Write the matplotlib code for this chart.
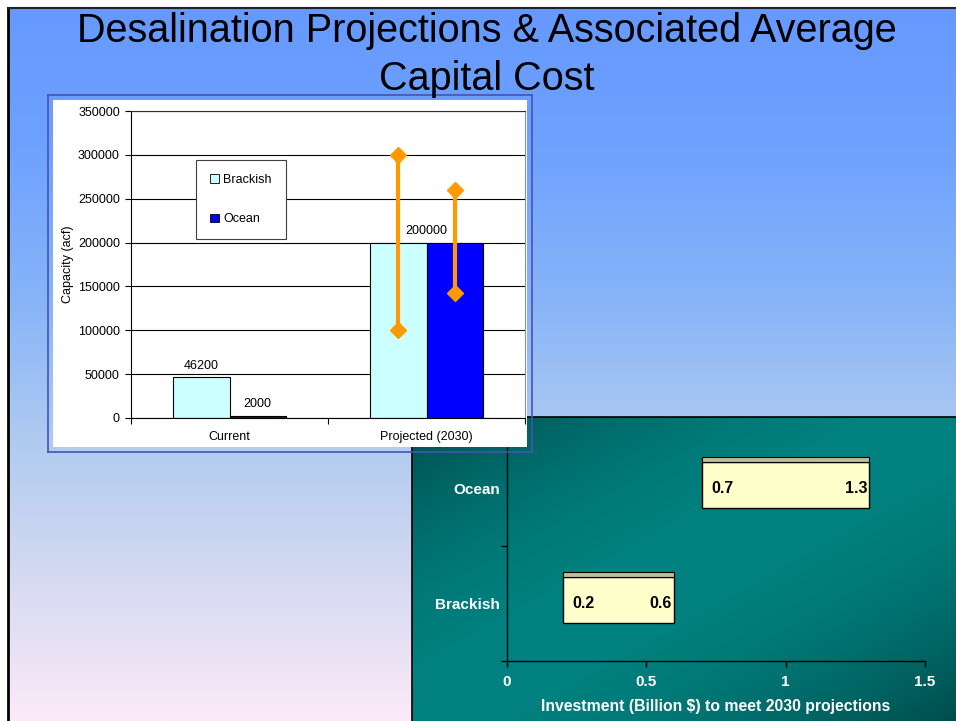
import numpy as np
import matplotlib

matplotlib.use("Agg")
import matplotlib.pyplot as plt
from matplotlib.patches import Patch, Rectangle

W, H = 956, 721

# Capacity chart (acre-feet)
categories = ["Current", "Projected (2030)"]
brackish_capacity = [46200, 200000]
ocean_capacity = [2000, 200000]
# projected high/low range for 2030
brackish_range = [100000, 300000]
ocean_range = [143000, 260000]

# Investment chart (billion $)
sources = ["Brackish", "Ocean"]
invest_low = [0.2, 0.7]
invest_high = [0.6, 1.3]
invest_ticks = [0, 0.5, 1, 1.5]
invest_tick_labels = ["0", "0.5", "1", "1.5"]

plt.rcParams["font.family"] = ["Liberation Sans", "DejaVu Sans"]

fig = plt.figure(figsize=(W / 100, H / 100), dpi=100, facecolor="white")


def px_axes(x0, y0, x1, y1):
    """Axes placed by pixel box, measured from the top-left corner."""
    return fig.add_axes([x0 / W, 1 - y1 / H, (x1 - x0) / W, (y1 - y0) / H])


def blend(stops, t):
    pos = [s[0] for s in stops]
    cols = np.array([s[1] for s in stops], dtype=float) / 255.0
    return np.stack([np.interp(t, pos, cols[:, k]) for k in range(3)], axis=-1)


# --- slide background -------------------------------------------------------
bg = px_axes(0, 0, W, H)
bg.set_xlim(0, W)
bg.set_ylim(H, 0)
bg.axis("off")
slide_stops = [
    (8, (102, 153, 255)),
    (150, (110, 162, 254)),
    (300, (135, 180, 248)),
    (450, (178, 204, 240)),
    (560, (208, 216, 241)),
    (650, (232, 226, 245)),
    (721, (252, 234, 250)),
]
rows = np.linspace(8, H, 400)
grad = blend(slide_stops, rows)[:, None, :]
bg.imshow(grad, extent=(8, W, H, 8), aspect="auto", interpolation="bilinear")
bg.plot([8, 8], [8, H], color="black", lw=2)
bg.plot([8, W], [8, 8], color="#202030", lw=1.5)

# --- teal panel behind the investment chart ---------------------------------
tp = px_axes(412, 417, W, H)
tp.set_xticks([])
tp.set_yticks([])
gx, gy = np.meshgrid(np.linspace(0, 1, 300), np.linspace(0, 1, 200))
diag = (gx + gy) / 2
shade = np.sin(np.pi * diag) ** 0.9
dark = np.array([0, 76, 76]) / 255.0
bright = np.array([0, 130, 128]) / 255.0
teal = dark + (bright - dark) * shade[..., None]
tp.imshow(teal, extent=(0, 1, 0, 1), aspect="auto", origin="upper")
for side in ("right", "bottom"):
    tp.spines[side].set_visible(False)
for side in ("left", "top"):
    tp.spines[side].set_color("black")
    tp.spines[side].set_linewidth(1.2)

ia = px_axes(507, 431, 925, 661)
ia.set_facecolor("none")
ia.set_xlim(0, 1.5)
ia.set_ylim(-0.5, 1.5)
ypos = np.arange(len(sources))
spans = [hi - lo for lo, hi in zip(invest_low, invest_high)]
ia.barh(ypos + 0.03, spans, left=invest_low, height=0.40,
        color="#FFFFCC", edgecolor="black", linewidth=1, zorder=3)
ia.barh(ypos + 0.25, spans, left=invest_low, height=0.04,
        color="#BDBD9B", edgecolor="black", linewidth=0.8, zorder=3)
for y, lo, hi in zip(ypos, invest_low, invest_high):
    ia.annotate(f"{lo:g}", (lo, y), xytext=(7, 0), textcoords="offset points",
                ha="left", va="center", fontsize=11.5, fontweight="bold", zorder=4)
    ia.annotate(f"{hi:g}", (hi, y), xytext=(-1.5, 0), textcoords="offset points",
                ha="right", va="center", fontsize=11.5, fontweight="bold", zorder=4)

ia.set_xticks(invest_ticks)
ia.set_xticklabels(invest_tick_labels)
ia.set_yticks([-0.5, 0.5, 1.5])
ia.set_yticklabels([])
ia.set_yticks(ypos, minor=True)
ia.set_yticklabels(sources, minor=True)
ia.tick_params(axis="x", direction="out", length=4, width=1, color="black",
               pad=6, labelsize=11, labelcolor="white")
ia.tick_params(axis="y", which="major", direction="out", length=4, width=1, color="black")
ia.tick_params(axis="y", which="minor", length=0, pad=5, labelsize=11, labelcolor="white")
for lbl in ia.get_xticklabels() + ia.get_yticklabels(minor=True):
    lbl.set_fontweight("bold")
ia.set_xlabel("Investment (Billion $) to meet 2030 projections",
              fontsize=11.3, fontweight="bold", color="white")
ia.xaxis.label.set_va("center")
ia.xaxis.set_label_coords(0.5, -0.2)
for side in ("top", "right"):
    ia.spines[side].set_visible(False)
for side in ("left", "bottom"):
    ia.spines[side].set_color("black")
    ia.spines[side].set_linewidth(1)

# --- white panel holding the capacity chart ---------------------------------
pp = px_axes(48, 95, 532, 452)
pp.set_xlim(48, 532)
pp.set_ylim(452, 95)
pp.set_facecolor("none")
pp.set_xticks([])
pp.set_yticks([])
for sp in pp.spines.values():
    sp.set_color("#4753B0")
    sp.set_linewidth(1.2)
pp.add_patch(Rectangle((52.5, 99.5), 474, 347.5, facecolor="white", edgecolor="none"))

ba = px_axes(131, 111, 525, 418)
ba.set_facecolor("white")
x = np.arange(len(categories))
w = 0.287
ba.bar(x - w / 2, brackish_capacity, w, color="#CCFFFF", edgecolor="black",
       linewidth=0.8, zorder=2)
ba.bar(x + w / 2, ocean_capacity, w, color="#0000FF", edgecolor="black",
       linewidth=0.8, zorder=2)

# high/low range markers on the projected bars
ba.plot([x[1] - w / 2] * 2, brackish_range, color="#FF9900", lw=3,
        marker="D", ms=8, zorder=4)
ba.plot([x[1] + w / 2] * 2, ocean_range, color="#FF9900", lw=3,
        marker="D", ms=8, zorder=4)

for xi, b, o in zip(x, brackish_capacity, ocean_capacity):
    if b == o:
        ba.annotate(f"{b}", (xi, b), xytext=(0, 8.5), textcoords="offset points",
                    ha="center", va="center", fontsize=9, zorder=5)
    else:
        ba.annotate(f"{b}", (xi - w / 2, b), xytext=(0, 8.5), textcoords="offset points",
                    ha="center", va="center", fontsize=9, zorder=5)
        ba.annotate(f"{o}", (xi + w / 2, o), xytext=(0, 8.5), textcoords="offset points",
                    ha="center", va="center", fontsize=9, zorder=5)

ba.set_xlim(-0.5, 1.5)
ba.set_ylim(0, 350000)
ba.set_yticks(np.arange(0, 350001, 50000))
ba.set_yticklabels([f"{v:d}" for v in range(0, 350001, 50000)])
ba.grid(axis="y", color="black", linewidth=0.8)
ba.set_axisbelow(True)
ba.set_xticks([-0.5, 0.5, 1.5])
ba.set_xticklabels([])
ba.set_xticks(x, minor=True)
ba.set_xticklabels(categories, minor=True)
ba.tick_params(axis="x", which="major", direction="out", length=4, width=0.8)
ba.tick_params(axis="x", which="minor", length=0, pad=9.5, labelsize=9)
ba.tick_params(axis="y", direction="out", length=4, width=0.8, pad=4, labelsize=9)
ba.set_ylabel("Capacity (acf)", fontsize=9)
ba.yaxis.label.set_va("center")
ba.yaxis.set_label_coords(-0.16, 0.5)
ba.spines["left"].set_color("black")
ba.spines["bottom"].set_color("black")
ba.spines["top"].set_color("#303030")
ba.spines["right"].set_color("#909090")
for sp in ba.spines.values():
    sp.set_linewidth(0.8)

handles = [
    Patch(facecolor="#CCFFFF", edgecolor="black", linewidth=0.6, label="Brackish"),
    Patch(facecolor="#0000FF", edgecolor="black", linewidth=0.6, label="Ocean"),
]
leg = ba.legend(handles=handles, loc="upper left", bbox_to_anchor=(196 / W, 1 - 160 / H),
                bbox_transform=fig.transFigure, fontsize=9, frameon=True, fancybox=False,
                edgecolor="#404040", framealpha=1, labelspacing=2.2, borderpad=1.1,
                handlelength=0.7, handleheight=0.7, handletextpad=0.4, borderaxespad=0)
leg.get_frame().set_linewidth(0.8)

# --- slide title -----------------------------------------------------------
fig.text(487 / W, 1 - 42 / H, "Desalination Projections & Associated Average",
         ha="center", va="baseline", fontsize=28.5, color="black")
fig.text(487 / W, 1 - 90 / H, "Capital Cost",
         ha="center", va="baseline", fontsize=28.5, color="black")

fig.savefig("out.png", dpi=100, facecolor="white")
